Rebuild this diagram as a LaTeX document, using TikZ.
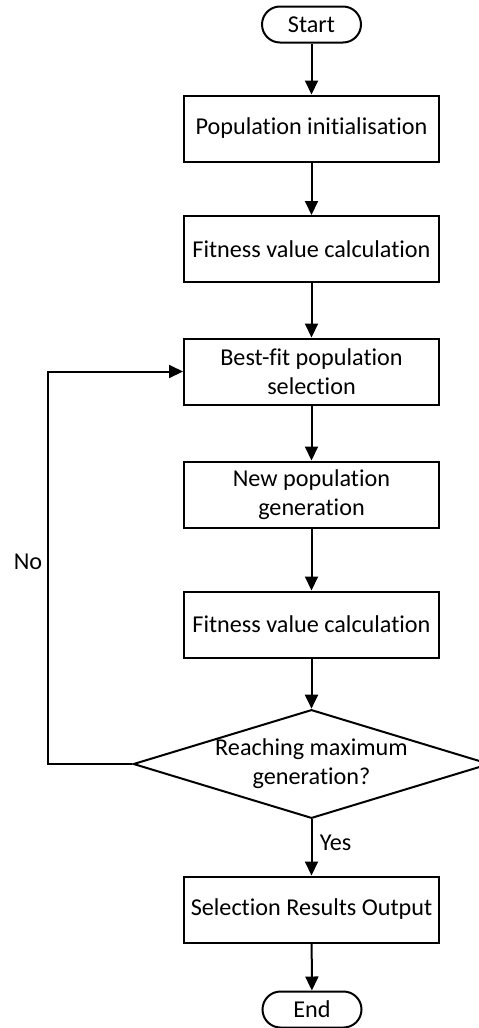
\documentclass[tikz,border=0pt]{standalone}
\usepackage{fontspec}
\setmainfont[Ligatures={NoCommon,NoRare}]{Carlito}
\usetikzlibrary{shapes.geometric,shapes.misc,arrows.meta}
\begin{document}
\begin{tikzpicture}[x=1pt,y=-1pt,
  line width=2pt,
  every node/.style={font=\fontsize{24.2}{29}\selectfont},
  process/.style={draw,rectangle,minimum width=255pt,minimum height=66pt,align=center,inner sep=0pt},
  terminal/.style={draw,rounded rectangle,minimum width=99pt,minimum height=36pt,inner sep=0pt},
  decision/.style={draw,diamond,aspect=3.28,minimum width=348pt,minimum height=106pt,inner sep=0pt,align=center},
  flow/.style={-{Triangle[length=14pt,width=13pt]}}]
\useasboundingbox (0,0) rectangle (479,1028);

\node[terminal] (start) at (311.5,24.5) {Start};
\node[process] (init) at (311.5,128.5) {Population initialisation};
\node[process] (fit1) at (311.5,249) {Fitness value calculation};
\node[process] (sel) at (311.5,371.5) {Best-fit population\\selection};
\node[process] (gen) at (311.5,494.5) {New population\\generation};
\node[process] (fit2) at (311.5,624.5) {Fitness value calculation};
\node[decision] (dec) at (311.5,764) {Reaching maximum\\generation?};
\node[process] (out) at (311.5,909.5) {Selection Results Output};
\node[terminal] (end) at (312,1009.5) {End};
\coordinate (loop) at (48,764);
\node (no) at (28,562) {No};

\draw[flow] (start) -- (init);
\draw[flow] (init) -- (fit1);
\draw[flow] (fit1) -- (sel);
\draw[flow] (sel) -- (gen);
\draw[flow] (gen) -- (fit2);
\draw[flow] (fit2) -- (dec);
\draw[flow] (dec) -- node[right=4pt,pos=0.42] (yes) {Yes} (out);
\draw[flow] (out) -- (end);
\draw[flow] (dec.west) -- (loop) |- (sel.west);
\end{tikzpicture}
\end{document}
